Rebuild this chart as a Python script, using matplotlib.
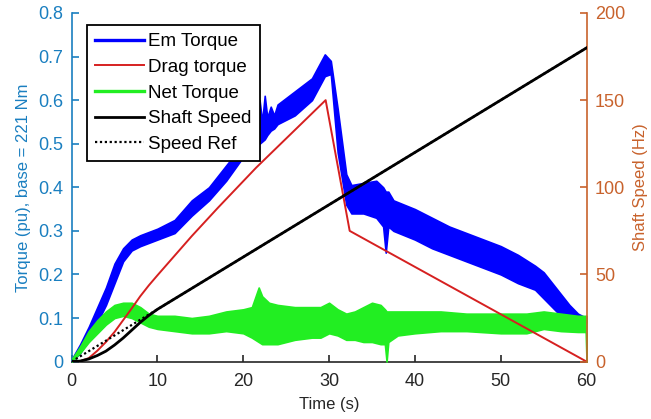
import matplotlib
matplotlib.use("Agg")
import matplotlib.pyplot as plt
from matplotlib.lines import Line2D
import numpy as np

plt.rcParams['font.family'] = ['Liberation Sans', 'DejaVu Sans']

# ---- Em torque band (pu): time, upper and lower edge of the ripple ----
em_t = [0, 1, 2, 3, 4, 5, 6, 7, 8, 10, 12, 14, 16, 18, 20, 21, 21.3, 21.6, 21.9,
        22.2, 22.5, 22.8, 23.2, 23.6, 24, 26, 28, 29.5, 30.2, 31, 32, 32.6, 34,
        35.5, 36.3, 36.6, 36.9, 37.5, 40, 42, 44, 46, 48, 50, 52, 54, 55, 56, 57,
        58, 59, 60]
em_hi = [0.005, 0.04, 0.08, 0.125, 0.17, 0.225, 0.26, 0.28, 0.29, 0.305, 0.325,
         0.37, 0.40, 0.45, 0.50, 0.53, 0.57, 0.54, 0.60, 0.55, 0.61, 0.56, 0.585,
         0.565, 0.59, 0.62, 0.65, 0.705, 0.69, 0.58, 0.43, 0.405, 0.41, 0.415, 0.40,
         0.39, 0.39, 0.37, 0.35, 0.33, 0.31, 0.295, 0.28, 0.265, 0.245, 0.22, 0.205,
         0.18, 0.155, 0.13, 0.11, 0.10]
em_lo = [0.0, 0.02, 0.05, 0.09, 0.13, 0.18, 0.23, 0.255, 0.265, 0.28, 0.295, 0.335,
         0.37, 0.415, 0.47, 0.49, 0.495, 0.50, 0.50, 0.505, 0.51, 0.52, 0.53, 0.535,
         0.545, 0.565, 0.60, 0.655, 0.66, 0.48, 0.36, 0.34, 0.34, 0.33, 0.31, 0.25,
         0.31, 0.30, 0.28, 0.26, 0.245, 0.23, 0.215, 0.20, 0.18, 0.165, 0.145, 0.125,
         0.105, 0.09, 0.085, 0.09]

# ---- Drag torque (pu) ----
drag_t = [0, 1, 2, 3, 4, 5, 6, 7, 8, 9, 10, 12, 14, 17, 21.5, 29.6, 32.4, 60]
drag_v = [0, 0.001, 0.008, 0.025, 0.045, 0.068, 0.095, 0.122, 0.15, 0.175, 0.198,
          0.243, 0.288, 0.352, 0.445, 0.6, 0.30, 0.0]

# ---- Net torque band (pu) ----
net_t = [0, 1, 2, 3, 4, 5, 6, 7, 8, 9, 10, 12, 14, 16, 18, 20, 21, 21.8, 22.2, 23,
         24, 26, 28, 29, 30, 31, 32, 33, 34, 35, 36, 36.5, 36.7, 36.9, 38, 40, 43,
         46, 50, 53, 55, 57, 59, 59.9, 60]
net_hi = [0.005, 0.035, 0.07, 0.095, 0.115, 0.13, 0.135, 0.135, 0.125, 0.11, 0.105,
          0.105, 0.10, 0.105, 0.115, 0.12, 0.125, 0.17, 0.15, 0.135, 0.13, 0.125,
          0.125, 0.125, 0.135, 0.12, 0.11, 0.115, 0.125, 0.135, 0.13, 0.12, 0.115,
          0.115, 0.115, 0.115, 0.115, 0.11, 0.11, 0.11, 0.115, 0.11, 0.105, 0.105,
          0.105]
net_lo = [0.0, 0.02, 0.045, 0.065, 0.085, 0.1, 0.105, 0.1, 0.09, 0.08, 0.075, 0.07,
          0.065, 0.065, 0.07, 0.065, 0.055, 0.045, 0.04, 0.04, 0.04, 0.05, 0.055,
          0.055, 0.065, 0.06, 0.05, 0.05, 0.045, 0.045, 0.04, 0.04, 0.0, 0.045, 0.06,
          0.065, 0.07, 0.07, 0.065, 0.065, 0.075, 0.07, 0.068, 0.068, 0.0]

# ---- Shaft speed and speed reference (Hz) ----
spd_t = [0, 1, 2, 3, 4, 5, 6, 7, 8, 9, 10, 60]
spd_v = [0, 0.3, 1.5, 3.5, 6, 9.5, 13.5, 18, 22.5, 26.5, 30, 180]
ref_t = [0, 60]
ref_v = [0, 180]

C_LEFT = '#1A7FC0'
C_RIGHT = '#C8622C'
C_EM = '#0000FF'
C_DRAG = '#D62020'
C_NET = '#22EE22'

fig = plt.figure(figsize=(6.51, 4.19), dpi=100)
ax = fig.add_axes([0.110, 0.137, 0.791, 0.832])

ax.fill_between(em_t, em_lo, em_hi, color=C_EM, linewidth=1.2, edgecolor=C_EM, zorder=2)
ax.fill_between(net_t, net_lo, net_hi, color=C_NET, linewidth=1.2, edgecolor=C_NET, zorder=3)
ax.plot(drag_t, drag_v, color=C_DRAG, lw=1.4, zorder=4)

ax.set_xlim(0, 60)
ax.set_ylim(0, 0.8)
ax.set_xticks(range(0, 61, 10))
ax.set_yticks(np.arange(0, 0.81, 0.1))
ax.set_yticklabels(['0'] + ['%.1f' % v for v in np.arange(0.1, 0.81, 0.1)])

ax2 = ax.twinx()
ax2.plot(ref_t, ref_v, color='black', lw=1.6, ls=(0, (1, 1.2)), zorder=5)
ax2.plot(spd_t, spd_v, color='black', lw=2.0, zorder=6)
ax2.set_ylim(0, 200)
ax2.set_yticks(range(0, 201, 50))

for a in (ax, ax2):
    a.spines['top'].set_visible(False)
ax.spines['left'].set_color(C_LEFT)
ax.spines['left'].set_linewidth(1.2)
ax.spines['bottom'].set_color('#262626')
ax.spines['bottom'].set_linewidth(1.2)
ax.spines['right'].set_visible(False)
ax2.spines['left'].set_visible(False)
ax2.spines['bottom'].set_visible(False)
ax2.spines['right'].set_color(C_RIGHT)
ax2.spines['right'].set_linewidth(1.2)

ax.tick_params(axis='x', direction='in', length=5, width=1.2, colors='#262626',
               labelsize=13, pad=8)
ax.tick_params(axis='y', direction='in', length=5, width=1.2, colors=C_LEFT,
               labelsize=13, pad=6)
ax2.tick_params(axis='y', direction='in', length=5, width=1.2, colors=C_RIGHT,
                labelsize=13, pad=6)

ax.set_xlabel('Time (s)', fontsize=12, color='#262626', labelpad=5)
ax.set_ylabel('Torque (pu), base = 221 Nm', fontsize=12, color=C_LEFT, labelpad=5)
ax2.set_ylabel('Shaft Speed (Hz)', fontsize=12, color=C_RIGHT, labelpad=6)

handles = [
    Line2D([], [], color=C_EM, lw=2.4),
    Line2D([], [], color=C_DRAG, lw=1.4),
    Line2D([], [], color=C_NET, lw=2.4),
    Line2D([], [], color='black', lw=2.0),
    Line2D([], [], color='black', lw=1.6, ls=(0, (1, 1.2))),
]
labels = ['Em Torque', 'Drag torque', 'Net Torque', 'Shaft Speed', 'Speed Ref']
leg = ax2.legend(handles, labels, loc='upper left', bbox_to_anchor=(0.030, 0.966),
                 fontsize=13.5, frameon=True, fancybox=False, framealpha=1,
                 edgecolor='black', handlelength=2.6, handletextpad=0.2,
                 labelspacing=0.45, borderpad=0.45, borderaxespad=0)
leg.get_frame().set_linewidth(1.3)
leg.set_zorder(10)

fig.savefig('out.png', dpi=100)
